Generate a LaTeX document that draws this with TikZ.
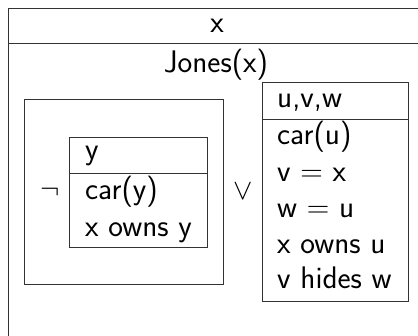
\documentclass[tikz,border=0pt]{standalone}
\usepackage{fix-cm}
\usepackage{fontspec}
\renewcommand{\familydefault}{\sfdefault}
\begin{document}
\begin{tikzpicture}[x=1pt,y=-1pt,
  box/.style={draw=black!80, line width=0.9pt, rectangle, inner sep=0pt, anchor=north west},
  sep/.style={draw=black!80, line width=0.9pt},
  txt/.style={inner sep=0pt, anchor=base west, font=\fontsize{31.2}{37}\selectfont},
  ctxt/.style={inner sep=0pt, anchor=base, font=\fontsize{31.2}{37}\selectfont},
  sym/.style={inner sep=0pt, font=\fontsize{29}{35}\selectfont}]
\useasboundingbox (0,0) rectangle (418,336);
\clip (0,0) rectangle (418,336);
% outer DRS
\node[box, minimum width=430pt, minimum height=350pt] (outer) at (8,8) {};
\coordinate (h1) at (8,43);
\coordinate (h2) at (440,43);
\draw[sep] (h1) -- (h2);
\node[ctxt] (xref) at (217,33) {x};
\node[ctxt] (jones) at (216,73) {Jones(x)};
% negation box
\node[box, minimum width=199pt, minimum height=185pt] (neg) at (24,99) {};
\node[sym] (not) at (50,192) {$\neg$};
\node[box, minimum width=138pt, minimum height=110pt] (inner) at (69,137) {};
\draw[sep] (inner.west |- 0,173) -- (inner.east |- 0,173);
\node[txt] (ty) at (85,160) {y};
\node[txt] (tcar) at (85,200) {car(y)};
\node[txt] (town) at (85,237) {x owns y};
% disjunction
\node[sym] (or) at (243,191) {$\vee$};
% right box
\node[box, minimum width=146pt, minimum height=219pt] (right) at (262,82) {};
\draw[sep] (right.west |- 0,119) -- (right.east |- 0,119);
\node[txt] (ruvw) at (277,108) {u,v,w};
\node[txt] (rcar) at (277,145) {car(u)};
\node[txt] (rvx) at (277,182) {v $=$ x};
\node[txt] (rwu) at (277,218) {w $=$ u};
\node[txt] (rown) at (277,254) {x owns u};
\node[txt] (rhide) at (277,289) {v hides w};
\end{tikzpicture}
\end{document}
